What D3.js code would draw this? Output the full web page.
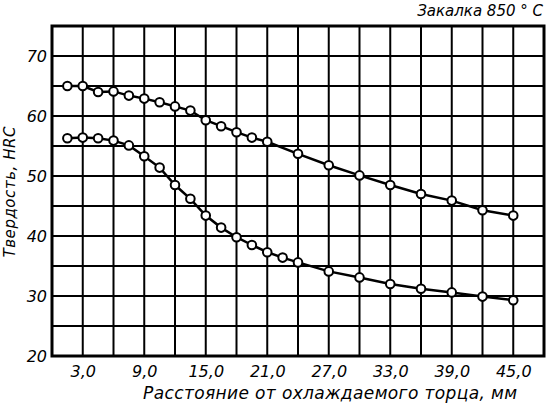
<!DOCTYPE html>
<html>
<head>
<meta charset="utf-8">
<script src="https://cdn.jsdelivr.net/npm/d3@7"></script>
<style>
  body { margin: 0; background: #fff; }
  text { font-family: "DejaVu Sans", sans-serif; font-style: italic; fill: #000; }
</style>
</head>
<body>
<div id="chart"></div>
<script>
// distance from quenched end, mm
const distUpper = [1.5, 3, 4.5, 6, 7.5, 9, 10.5, 12, 13.5, 15, 16.5, 18, 19.5, 21, 24, 27, 30, 33, 36, 39, 42, 45];
const hrcUpper = [65.0, 65.0, 64.0, 64.1, 63.4, 62.9, 62.3, 61.6, 60.9, 59.3, 58.3, 57.3, 56.4, 55.7, 53.7, 51.8, 50.1, 48.5, 47.0, 45.9, 44.3, 43.4];

const distLower = [1.5, 3, 4.5, 6, 7.5, 9, 10.5, 12, 13.5, 15, 16.5, 18, 19.5, 21, 22.5, 24, 27, 30, 33, 36, 39, 42, 45];
const hrcLower = [56.3, 56.4, 56.3, 55.9, 55.1, 53.3, 51.4, 48.5, 46.2, 43.4, 41.4, 39.8, 38.5, 37.3, 36.4, 35.6, 34.1, 33.1, 32.0, 31.2, 30.6, 29.9, 29.3];

const xTicks = [3, 9, 15, 21, 27, 33, 39, 45];
const yTicks = [20, 30, 40, 50, 60, 70];
const xGrid = d3.range(0, 49, 3);
const yGrid = d3.range(20, 76, 5);

const titleText = 'Закалка 850 ° C';
const xLabel = 'Расстояние от охлаждаемого торца, мм';
const yLabel = 'Твердость, HRC';

const W = 550, H = 406;
const margin = { top: 26, right: 6, bottom: 50, left: 52 };
const width = W - margin.left - margin.right;
const height = H - margin.top - margin.bottom;

const svg = d3.select('#chart')
  .append('svg')
  .attr('width', W)
  .attr('height', H);

const g = svg.append('g')
  .attr('transform', `translate(${margin.left},${margin.top})`);

const x = d3.scaleLinear().domain([0, 48]).range([0, width]);
const y = d3.scaleLinear().domain([20, 75]).range([height, 0]);

// grid
g.selectAll('.vgrid')
  .data(xGrid)
  .enter().append('line')
  .attr('x1', d => x(d)).attr('x2', d => x(d))
  .attr('y1', 0).attr('y2', height)
  .attr('stroke', '#000')
  .attr('stroke-width', 2);

g.selectAll('.hgrid')
  .data(yGrid)
  .enter().append('line')
  .attr('x1', 0).attr('x2', width)
  .attr('y1', d => y(d)).attr('y2', d => y(d))
  .attr('stroke', '#000')
  .attr('stroke-width', 2);

// frame
g.append('rect')
  .attr('width', width)
  .attr('height', height)
  .attr('fill', 'none')
  .attr('stroke', '#000')
  .attr('stroke-width', 3);

// axes (labels only, grid drawn above)
const fmt = d => d3.format('.1f')(d).replace('.', ',');

const xAxis = g.append('g')
  .attr('transform', `translate(0,${height})`)
  .call(d3.axisBottom(x).tickValues(xTicks).tickFormat(fmt).tickSize(0).tickPadding(10));
xAxis.select('.domain').remove();
xAxis.selectAll('text')
  .style('font-size', '16px')
  .style('font-family', '"DejaVu Sans", sans-serif');

const yAxis = g.append('g')
  .call(d3.axisLeft(y).tickValues(yTicks).tickSize(0).tickPadding(5));
yAxis.select('.domain').remove();
yAxis.selectAll('text')
  .style('font-size', '16px')
  .style('font-family', '"DejaVu Sans", sans-serif');

// curves
const line = d3.line()
  .x(d => x(d[0]))
  .y(d => y(d[1]));

const series = [
  d3.zip(distUpper, hrcUpper),
  d3.zip(distLower, hrcLower)
];

series.forEach(pts => {
  g.append('path')
    .datum(pts)
    .attr('fill', 'none')
    .attr('stroke', '#000')
    .attr('stroke-width', 2.5)
    .attr('d', line);

  g.selectAll(null)
    .data(pts)
    .enter().append('circle')
    .attr('cx', d => x(d[0]))
    .attr('cy', d => y(d[1]))
    .attr('r', 4.3)
    .attr('fill', '#fff')
    .attr('stroke', '#000')
    .attr('stroke-width', 2);
});

// labels
svg.append('text')
  .attr('x', 543)
  .attr('y', 16)
  .attr('text-anchor', 'end')
  .style('font-size', '15px')
  .text(titleText);

svg.append('text')
  .attr('x', 330)
  .attr('y', 399)
  .attr('text-anchor', 'middle')
  .attr('textLength', 374)
  .attr('lengthAdjust', 'spacing')
  .style('font-size', '17px')
  .text(xLabel);

svg.append('text')
  .attr('transform', 'rotate(-90)')
  .attr('x', -192)
  .attr('y', 15)
  .attr('text-anchor', 'middle')
  .attr('textLength', 131)
  .attr('lengthAdjust', 'spacing')
  .style('font-size', '15px')
  .text(yLabel);
</script>
</body>
</html>
